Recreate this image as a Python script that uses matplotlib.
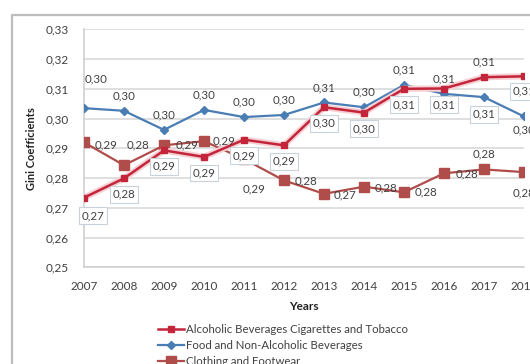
import matplotlib
matplotlib.use('Agg')
import matplotlib.pyplot as plt
from matplotlib.lines import Line2D

plt.rcParams['font.family'] = ['Lato', 'DejaVu Sans']

years = [2007, 2008, 2009, 2010, 2011, 2012, 2013, 2014, 2015, 2016, 2017, 2018]
alcohol = [0.2734, 0.2799, 0.2893, 0.2871, 0.2929, 0.2910, 0.3038, 0.3020, 0.3100, 0.3101, 0.3139, 0.3142]
food = [0.3035, 0.3026, 0.2962, 0.3029, 0.3005, 0.3012, 0.3054, 0.3038, 0.3113, 0.3083, 0.3072, 0.3007]
clothing = [0.2920, 0.2843, 0.2910, 0.2924, 0.2864, 0.2792, 0.2747, 0.2771, 0.2752, 0.2816, 0.2829, 0.2820]

names = ["Alcoholic Beverages Cigarettes and Tobacco",
         "Food and Non-Alcoholic Beverages",
         "Clothing and Footwear"]
yticks = [0.25, 0.26, 0.27, 0.28, 0.29, 0.30, 0.31, 0.32, 0.33]

# label placement (pixel offsets dx, dy, horizontal align, boxed)
alc_lab = [(9, -18, 'center', True)] + [(0, -16, 'center', True)] * 9 + \
          [(0, 15, 'center', False), (0, -15, 'center', True)]
food_lab = [(12, 29, 'center', False)] + [(0, 15, 'center', False)] * 9 + \
           [(0, -17, 'center', True), (0, -13, 'center', False)]
clo_lab = [(11, -3, 'left', False), (3, 20, 'left', False), (12, 0, 'left', False),
           (9, 0, 'left', False), (-1, -30, 'left', False), (11, 0, 'left', False),
           (10, -1, 'left', False), (11, -1, 'left', False), (11, 0, 'left', False),
           (12, -1, 'left', False), (0, 16, 'center', False), (0, -21, 'center', False)]

RED = '#C3263A'
BLUE = '#4A7DB4'
BROWN = '#B04D4B'
TXT = '#404040'

fig = plt.figure(figsize=(5.3, 3.64), dpi=100)
fig.patch.set_facecolor('white')
ax = fig.add_axes([84/530, 1-267.3/364, 440/530, 238/364])

ax.plot(years, clothing, color=BROWN, lw=1.6, marker='s', ms=7.5, zorder=3)
ax.plot(years, food, color=BLUE, lw=1.6, marker='D', ms=4.5, zorder=4)
ax.plot(years, alcohol, color='#F6D0D5', lw=4.5, zorder=4.5, solid_capstyle='round')
ax.plot(years, alcohol, color=RED, lw=1.8, marker='s', ms=4.5, zorder=5)

px = 0.72  # points per pixel at dpi 100


def labels(vals, spec):
    for x, v, (dx, dy, ha, boxed) in zip(years, vals, spec):
        bb = dict(boxstyle='square,pad=0.25', fc='white', ec='#C9D1DA', lw=0.8) if boxed else None
        ax.annotate(f"{v:.2f}".replace('.', ','), (x, v), xytext=(dx*px, dy*px),
                    textcoords='offset points', ha=ha, va='center', fontsize=8.3,
                    color=TXT, bbox=bb, zorder=6, annotation_clip=False)


labels(alcohol, alc_lab)
labels(food, food_lab)
labels(clothing, clo_lab)

ax.set_xlim(2007, 2018)
ax.set_ylim(0.25, 0.33)
ax.set_xticks(years)
ax.set_yticks(yticks)
ax.set_yticklabels([f"{t:.2f}".replace('.', ',') for t in yticks])
ax.tick_params(length=0, labelsize=8.5, colors=TXT, pad=11)
ax.tick_params(axis='x', pad=10)
ax.grid(axis='y', color='#D9D9D9', lw=1.2)
ax.set_axisbelow(True)
for s in ['top', 'right']:
    ax.spines[s].set_visible(False)
for s in ['left', 'bottom']:
    ax.spines[s].set_color('#D0D0D0')
    ax.spines[s].set_linewidth(1.2)

ax.set_xlabel("Years", fontsize=8.5, fontweight='bold', color='#222222', labelpad=6)
ax.set_ylabel("Gini Coefficients", fontsize=8, fontweight='bold', color='#222222', labelpad=6)

handles = [Line2D([], [], color=RED, lw=1.8, marker='s', ms=4.5),
           Line2D([], [], color=BLUE, lw=1.6, marker='D', ms=4),
           Line2D([], [], color=BROWN, lw=1.6, marker='s', ms=6.5)]
fig.legend(handles, names, loc='upper left', bbox_to_anchor=(152/530, 1-318/364),
           frameon=False, fontsize=8.2, handlelength=2.3, handletextpad=0.15,
           labelspacing=0.45, borderpad=0, labelcolor=TXT)

# outer chart border (cropped screenshot)
fig.add_artist(Line2D([12/530, 12/530, 1], [0, 1-15/364, 1-15/364],
                      transform=fig.transFigure, color='#BDBDBD', lw=1.6))

fig.savefig("out.png", dpi=100)
